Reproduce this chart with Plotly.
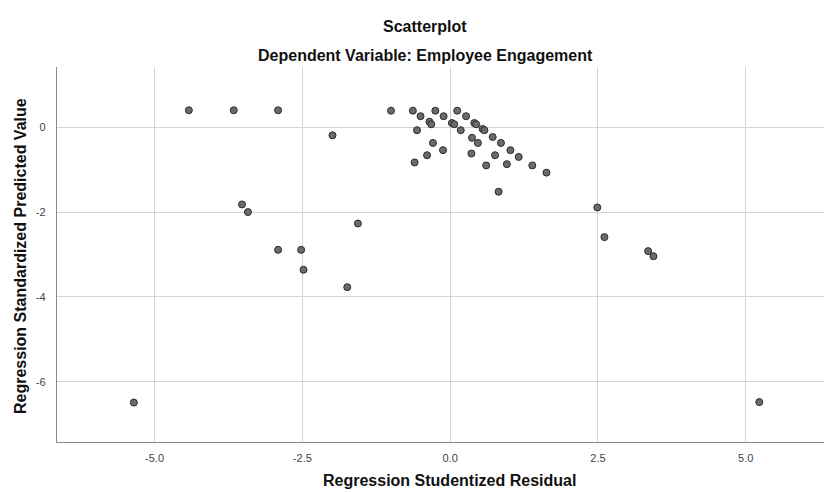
import plotly.graph_objects as go

# Regression Studentized Residual (x) and Regression Standardized Predicted Value (y)
studentized_residual = [
    -4.42, -3.66, -2.91, -1.99, -3.52, -3.42, -1.56, -2.91, -2.52, -2.48, -1.74,
    2.49, 2.61, 3.35, 3.44, -5.35, 5.23,
    -1.00, -0.63, -0.25, 0.12, -0.50, -0.11, 0.27, -0.35, -0.32, 0.03, 0.07,
    0.41, 0.44, 0.55, 0.58, -0.56, 0.18, 0.72, 0.37, 0.86, -0.29, 0.47,
    1.02, -0.12, 1.16, -0.39, 0.36, 0.76, -0.60, 0.61, 0.96, 1.39, 1.63, 0.82,
]
standardized_predicted = [
    0.40, 0.40, 0.40, -0.19, -1.82, -2.00, -2.27, -2.89, -2.89, -3.36, -3.77,
    -1.89, -2.59, -2.92, -3.04, -6.49, -6.48,
    0.39, 0.39, 0.39, 0.39, 0.26, 0.26, 0.26, 0.13, 0.07, 0.10, 0.07,
    0.10, 0.07, -0.04, -0.07, -0.07, -0.07, -0.23, -0.25, -0.37, -0.37, -0.37,
    -0.54, -0.54, -0.70, -0.66, -0.62, -0.66, -0.83, -0.90, -0.87, -0.90, -1.07, -1.52,
]

x_ticks = [-5.0, -2.5, 0.0, 2.5, 5.0]
x_tick_labels = ["-5.0", "-2.5", "0.0", "2.5", "5.0"]
y_ticks = [0, -2, -4, -6]
y_tick_labels = ["0", "-2", "-4", "-6"]

FONT = "Liberation Sans, Arial, sans-serif"

fig = go.Figure(
    go.Scatter(
        x=studentized_residual,
        y=standardized_predicted,
        mode="markers",
        marker=dict(size=7, color="#6b6b6b", line=dict(color="#2b2b2b", width=1)),
        hoverinfo="x+y",
    )
)

# page body has an 8px margin, so the figure is 824x484 placed at (8, 8)
OFF = 8
W, H = 824, 484
L, R, T, B = 49, 0, 59, 50
pw, ph = W - L - R, H - T - B

def px_to_paper_x(px):
    return (px - OFF - L) / pw

def px_to_paper_y(py):
    return (H - B - (py - OFF)) / ph

fig.update_layout(
    width=W,
    height=H,
    margin=dict(l=L, r=R, t=T, b=B, autoexpand=False),
    paper_bgcolor="white",
    plot_bgcolor="white",
    showlegend=False,
    font=dict(family=FONT, color="#222"),
    xaxis=dict(
        range=[-6.65, 6.46],
        tickvals=x_ticks,
        ticktext=x_tick_labels,
        showgrid=True,
        gridcolor="#d4d4d4",
        gridwidth=1.3,
        zeroline=False,
        showline=True,
        linecolor="#8a8a8a",
        linewidth=1.3,
        ticks="",
        tickfont=dict(family=FONT, size=11, color="#444"),
        ticklabelstandoff=6,
        fixedrange=True,
    ),
    yaxis=dict(
        range=[-7.42, 1.42],
        tickvals=y_ticks,
        ticktext=y_tick_labels,
        showgrid=True,
        gridcolor="#d4d4d4",
        gridwidth=1.3,
        zeroline=False,
        showline=True,
        linecolor="#8a8a8a",
        linewidth=1.3,
        ticks="",
        tickfont=dict(family=FONT, size=11, color="#444"),
        ticklabelstandoff=8,
        fixedrange=True,
    ),
    annotations=[
        dict(text="<b>Scatterplot</b>", xref="paper", yref="paper",
             x=px_to_paper_x(425), y=px_to_paper_y(26), xanchor="center", yanchor="middle",
             showarrow=False, font=dict(family=FONT, size=16, color="#111")),
        dict(text="<b>Dependent Variable: Employee Engagement</b>", xref="paper", yref="paper",
             x=px_to_paper_x(425), y=px_to_paper_y(56), xanchor="center", yanchor="middle",
             showarrow=False, font=dict(family=FONT, size=16, color="#111")),
        dict(text="<b>Regression Studentized Residual</b>", xref="paper", yref="paper",
             x=px_to_paper_x(449), y=px_to_paper_y(480), xanchor="center", yanchor="middle",
             showarrow=False, font=dict(family=FONT, size=16, color="#111")),
        dict(text="<b>Regression Standardized Predicted Value</b>", xref="paper", yref="paper",
             x=px_to_paper_x(20), y=px_to_paper_y(256), xanchor="center", yanchor="middle",
             textangle=-90, showarrow=False, font=dict(family=FONT, size=16, color="#111")),
    ],
)

fig.write_html("out.html")
